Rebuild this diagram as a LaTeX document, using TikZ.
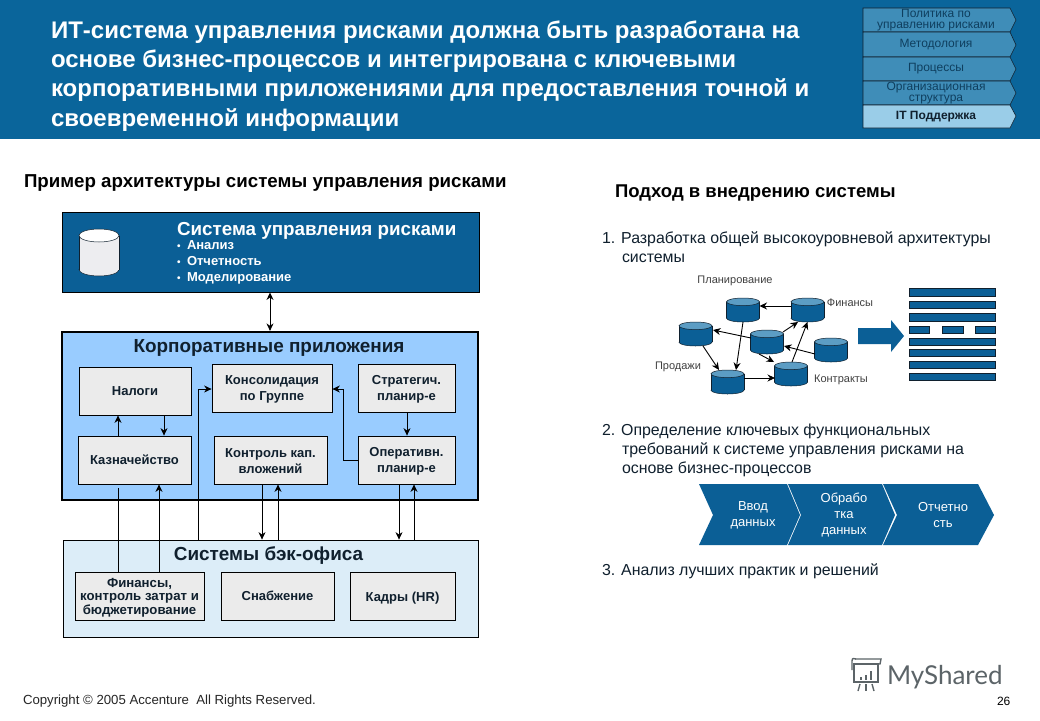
\documentclass[tikz,border=0pt]{standalone}
\usepackage{fontspec}
\setmainfont{Liberation Sans}
\newfontfamily\logofont{Lato}
\usetikzlibrary{calc,arrows.meta}
\definecolor{hdr}{HTML}{0A659B}
\definecolor{deep}{HTML}{0B5F96}
\definecolor{capc}{HTML}{5C9DC4}
\definecolor{tabc}{HTML}{3F8DB8}
\definecolor{tabon}{HTML}{9ACDE8}
\definecolor{tabtx}{HTML}{0F3F5F}
\definecolor{corp}{HTML}{99CCFF}
\definecolor{back}{HTML}{DCEDF8}
\definecolor{cell}{HTML}{EBEBEB}
\definecolor{ink}{HTML}{10202E}
\definecolor{logoc}{HTML}{5C6468}
\definecolor{silver}{HTML}{EDEDF0}
% name, x, y, radius, half height, cap radius, body colour, cap colour
\newcommand{\dbcyl}[8]{%
  \begin{scope}[shift={(#2,#3)}]
    \fill[#7] (-#4,-#5+#6) rectangle (#4,#5-#6);
    \draw[ink,line width=.5pt,fill=#7] (0,#5-#6) ellipse [x radius=#4,y radius=#6];
    \fill[#7] (-#4,-#5+#6) rectangle (#4,#5-#6);
    \draw[ink,line width=.5pt] (-#4,-#5+#6) -- (-#4,#5-#6) (#4,-#5+#6) -- (#4,#5-#6);
    \draw[ink,line width=.5pt,fill=#8] (0,-#5+#6) ellipse [x radius=#4,y radius=#6];
    \node[inner sep=0,outer sep=0,minimum width=2*#4,minimum height=2*#5] (#1) at (0,0) {};
  \end{scope}}
\newcommand{\dbsmall}[3]{\dbcyl{#1}{#2}{#3}{16.5}{12}{3.8}{deep}{capc}}
\newcommand{\smallbul}{\makebox[10pt][l]{\fontsize{10}{10}\selectfont\raisebox{.5pt}{•}}}
\tikzset{
  x=1pt,y=-1pt,
  ln/.style={inner sep=0,outer sep=0,anchor=base west,text=ink},
  mid/.style={inner sep=0,outer sep=0,align=center,text=ink},
  cellbox/.style={draw=black,line width=.8pt,fill=cell,minimum width=#1,minimum height=48,inner sep=0,align=center,font=\fontsize{13}{16}\selectfont\bfseries,text=ink},
  conn/.style={draw=black,line width=.9pt},
  arr/.style={conn,-{Stealth[length=7.5pt,width=7pt]}},
  link/.style={draw=black,line width=.9pt,-{Stealth[length=7.5pt,width=7pt]}},
  tabshape/.style={draw=ink,line width=.6pt,fill=#1},
  tabtext/.style={mid,text=tabtx,font=\fontsize{12}{11}\selectfont},
  smalllab/.style={mid,text=black!75,font=\fontsize{11}{12}\selectfont},
  bar/.style={fill=deep,draw=ink,line width=.3pt},
  chev/.style={fill=deep,draw=none},
  chevtext/.style={mid,text=white,font=\fontsize{13}{16}\selectfont},
  body/.style={ln,font=\fontsize{15.9}{16}\selectfont},
  ttl/.style={ln,text=white,font=\fontsize{24}{24}\selectfont\bfseries},
  bul/.style={ln,text=white,font=\fontsize{13}{13}\selectfont\bfseries},
}
\begin{document}
\begin{tikzpicture}
\useasboundingbox (0,0) rectangle (1040,720);
\fill[white] (0,0) rectangle (1040,720);
% header
\fill[hdr] (0,0) rectangle (1040,139);
\node[ttl] (t1) at (51,38) {ИТ-система управления рисками должна быть разработана на};
\node[ttl] (t2) at (51,67) {основе бизнес-процессов и интегрирована с ключевыми};
\node[ttl] (t3) at (51,96) {корпоративными приложениями для предоставления точной и};
\node[ttl] (t4) at (51,126) {своевременной информации};
% tabs
\draw[tabshape=tabc] (863,8) -- (1010,8) -- (1016,20) -- (1010,32) -- (863,32) -- cycle;
\draw[tabshape=tabc] (863,32) -- (1010,32) -- (1016,45) -- (1010,57) -- (863,57) -- cycle;
\draw[tabshape=tabc] (863,57) -- (1010,57) -- (1016,69) -- (1010,81) -- (863,81) -- cycle;
\draw[tabshape=tabc] (863,81) -- (1010,81) -- (1016,93) -- (1010,105) -- (863,105) -- cycle;
\draw[tabshape=tabon] (863,105) -- (1010,105) -- (1016,116) -- (1010,128) -- (863,128) -- cycle;
\node[tabtext] (tab1) at (936,20) {Политика по\\управлению рисками};
\node[tabtext] (tab2) at (936,44.5) {Методология};
\node[tabtext] (tab3) at (936,68.5) {Процессы};
\node[tabtext] (tab4) at (936,93) {Организационная\\структура};
\node[tabtext,text=ink,font=\fontsize{12}{11}\selectfont\bfseries] (tab5) at (936,116.5) {IT Поддержка};
% headings
\node[ln,text=black,font=\fontsize{18.7}{18}\selectfont\bfseries] (h1) at (24,187) {Пример архитектуры системы управления рисками};
\node[ln,text=black,font=\fontsize{18.5}{18}\selectfont\bfseries] (h2) at (615,197) {Подход в внедрению системы};
% top box
\node[draw=black,line width=.9pt,fill=deep,minimum width=417,minimum height=80,inner sep=0] (risk) at (270.5,252) {};
\dbcyl{riskdb}{99}{252.5}{20}{23.5}{6.5}{silver}{white}
\node[ln,text=white,font=\fontsize{18.8}{18}\selectfont\bfseries] (risktitle) at (177,235) {Система управления рисками};
\node[bul] (rb1) at (177,249.5) {\smallbul Анализ};
\node[bul] (rb2) at (177,265.5) {\smallbul Отчетность};
\node[bul] (rb3) at (177,281.5) {\smallbul Моделирование};
% corporate
\node[draw=black,line width=2.2pt,fill=corp,minimum width=416,minimum height=168,inner sep=0] (corpbox) at (270,416) {};
\node[mid,font=\fontsize{18.9}{18}\selectfont\bfseries] (corptitle) at (269,348) {Корпоративные приложения};
\node[cellbox=112] (nalogi) at (135,391) {Налоги};
\node[cellbox=120] (kons) at (272,388) {\rule{0pt}{11pt}Консолидация\\по Группе};
\node[cellbox=97] (strat) at (406.5,388) {\rule{0pt}{11pt}Стратегич.\\планир-е};
\node[cellbox=113] (kazn) at (134.5,460) {Казначейство};
\node[cellbox=113] (kontr) at (270.5,460) {\rule{0pt}{11pt}Контроль кап.\\вложений};
\node[cellbox=97] (oper) at (406.5,460) {\rule{0pt}{11pt}Оперативн.\\планир-е};
% back office
\node[draw=black,line width=.8pt,fill=back,minimum width=415,minimum height=97,inner sep=0] (backbox) at (270.5,588.5) {};
\node[mid,font=\fontsize{18.9}{18}\selectfont\bfseries] (backtitle) at (268.5,556) {Системы бэк-офиса};
\node[cellbox=129,font=\fontsize{13.2}{13.5}\selectfont\bfseries] (fin) at (139.5,596) {\rule{0pt}{12pt}Финансы,\\контроль затрат и\\бюджетирование};
\node[cellbox=113] (snab) at (277.5,596) {Снабжение};
\node[cellbox=105,text depth=0pt,text height=10pt] (kadry) at (402.5,596) {Кадры (HR)};
% connectors
\draw[arr,{Stealth[length=7.5pt,width=7pt]}-{Stealth[length=7.5pt,width=7pt]}] (risk.south -| 270,0) -- (corpbox.north -| 270,0);
\draw[arr] (118,0 |- kazn.north) -- (118,0 |- nalogi.south);
\draw[arr] (164,0 |- nalogi.south) -- (164,0 |- kazn.north);
\coordinate (kaznfree) at (118,488);
\draw[conn] (118,0 |- fin.north) -- (kaznfree);
\draw[arr] (159,0 |- fin.north) -- (159,0 |- kazn.south);
\draw[arr] (198,0 |- backbox.north) -- (198,389) -- (kons.west |- 0,389);
\draw[arr] (oper.west) -| (343,389) -- (kons.east |- 0,389);
\draw[arr] (407,0 |- strat.south) -- (407,0 |- oper.north);
\draw[arr] (262,0 |- kontr.south) -- (262,0 |- backbox.north);
\draw[arr] (278,0 |- backbox.north) -- (278,0 |- kontr.south);
\draw[arr] (399,0 |- oper.south) -- (399,0 |- backbox.north);
\draw[arr] (414,0 |- backbox.north) -- (414,0 |- oper.south);
% right text
\node[body] (r1) at (602,243) {1. Разработка общей высокоуровневой архитектуры};
\node[body] (r1b) at (622,262) {системы};
\node[body] (r2) at (602,435) {2. Определение ключевых функциональных};
\node[body] (r2b) at (622,454) {требований к системе управления рисками на};
\node[body] (r2c) at (622,473) {основе бизнес-процессов};
\node[body] (r3) at (602,575) {3. Анализ лучших практик и решений};
% database network
\dbsmall{dplan}{743}{310}
\dbsmall{dfin}{807.5}{310}
\dbsmall{dprod}{695.5}{334}
\dbsmall{dcent}{767}{342}
\dbsmall{dright}{831}{350}
\dbsmall{dbl}{727.5}{382}
\dbsmall{dcon}{791}{374}
\draw[link] ($(dfin)+(-16.5,-4)$) -- ($(dplan)+(16.5,-4)$);
\draw[link] ($(dplan)+(0,12)$) -- ($(dbl)+(8.5,-12)$);
\draw[link] ($(dcent)+(-16,-4)$) -- ($(dprod)+(17.5,-4)$);
\draw[link] ($(dcent)+(16,-10)$) -- ($(dfin)+(-9.5,12)$);
\draw[link] ($(dprod)+(7.5,12)$) -- ($(dbl)+(-8.5,-12)$);
\draw[link] ($(dright)+(-16,4)$) -- ($(dcent)+(17,4)$);
\draw[link] ($(dcent)+(-8,12)$) -- ($(dcon)+(-17,-12)$);
\draw[link] ($(dbl)+(16.5,-4)$) -- ($(dcon)+(-16,4)$);
\draw[link] ($(dcon)+(1,-12)$) -- ($(dfin)+(0,12)$);
\node[smalllab] (lplan) at (735,281) {Планирование};
\node[smalllab] (lfin) at (850,303) {Финансы};
\node[smalllab] (lprod) at (678,367) {Продажи};
\node[smalllab] (lcon) at (841,380) {Контракты};
% big arrow and bars
\fill[deep] (858,328) -- (891,328) -- (891,320) -- (904,336) -- (891,352) -- (891,344) -- (858,344) -- cycle;
\draw[bar] (909,288) rectangle (995,296);
\draw[bar] (909,301) rectangle (995,308);
\draw[bar] (909,313) rectangle (995,321);
\draw[bar] (909,326) rectangle (929,333);
\draw[bar] (942,326) rectangle (963,333);
\draw[bar] (975,326) rectangle (995,333);
\draw[bar] (909,338) rectangle (995,345);
\draw[bar] (909,349) rectangle (995,356);
\draw[bar] (909,361) rectangle (995,368);
\draw[bar] (909,373) rectangle (995,380);
% chevrons
\fill[chev] (699,484) -- (787,484) -- (800,515) -- (787,545) -- (699,545) -- (713,515) -- cycle;
\fill[chev] (788,484) -- (882,484) -- (895,515) -- (882,545) -- (788,545) -- (801,515) -- cycle;
\fill[chev] (883,484) -- (978,484) -- (994,515) -- (978,545) -- (883,545) -- (897,515) -- cycle;
\node[chevtext] (c1) at (753,515) {Ввод\\данных};
\node[chevtext] (c2) at (844,515) {Обрабо\\тка\\данных};
\node[chevtext] (c3) at (943,515) {Отчетно\\сть};
% footer
\node[ln,text=black!85,font=\fontsize{13.2}{13}\selectfont] (copy) at (23,704) {Copyright © 2005 Accenture\ \ All Rights Reserved.};
\node[ln,text=black,font=\fontsize{12}{12}\selectfont] (pg) at (997,705) {26};
% logo
\begin{scope}[logoc,line width=1.4pt]
\draw (854,664) rectangle (878,682);
\draw (852,670) -- (852,661) .. controls (852,658) and (854,658) .. (856,659);
\draw (855,659) -- (881,659) -- (880,664) -- (857,664);
\fill (860,677) rectangle (862,680);
\fill (865,675) rectangle (867,680);
\fill (870,671) rectangle (872,680);
\draw (860,684) -- (858,691);
\draw (866,684) -- (866,691);
\draw (872,684) -- (874,691);
\end{scope}
\node[ln,text=logoc,font=\logofont\fontsize{26}{26}\selectfont] (logo) at (887,684) {MyShared};
\end{tikzpicture}
\end{document}
